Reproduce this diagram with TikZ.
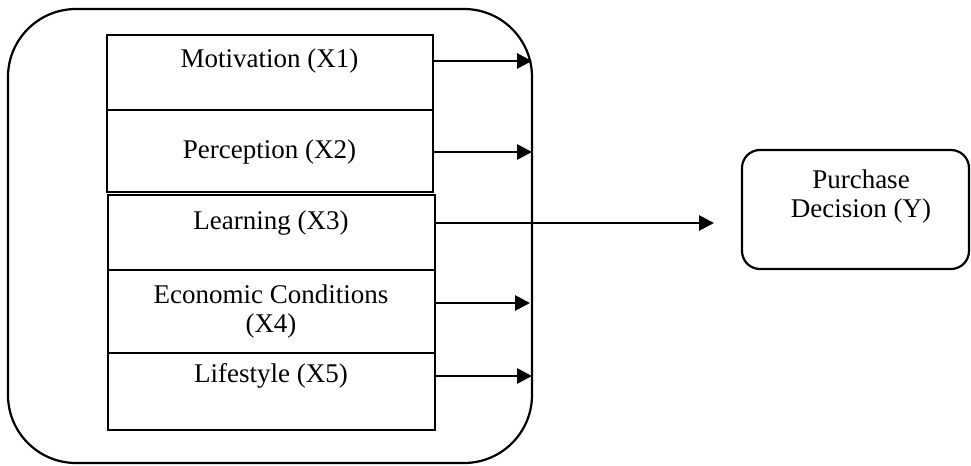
\documentclass[tikz,border=0pt]{standalone}
\usepackage{fontspec}
\setmainfont{Liberation Serif}
\usetikzlibrary{arrows.meta}
\begin{document}
\begin{tikzpicture}[x=0.5pt,y=-0.5pt,
  fbox/.style={draw,line width=1pt,inner sep=0pt,outer sep=0pt},
  lbl/.style={font=\fontsize{13.5pt}{14.5pt}\selectfont,inner sep=0pt,align=center},
  arr/.style={line width=1.4pt,-{Triangle[length=7.5pt,width=7.5pt]}}]
\useasboundingbox (0,0) rectangle (971,466);
\node[fbox,line width=1.1pt,rounded corners=34pt,minimum width=262pt,minimum height=227pt] (outer) at (270,236) {};
\node[fbox,minimum width=163pt,minimum height=37.5pt] (mbox) at (269.7,72.5) {};
\node[fbox,minimum width=163pt,minimum height=41pt] (pbox) at (269.7,151) {};
\node[fbox,minimum width=163.5pt,minimum height=37.5pt] (lbox) at (271.5,232.5) {};
\node[fbox,minimum width=163.5pt,minimum height=41.5pt] (ebox) at (271.5,311.5) {};
\node[fbox,minimum width=163.5pt,minimum height=38.5pt] (fbox) at (271.5,391.5) {};
\node[fbox,line width=1.1pt,rounded corners=9pt,minimum width=113.5pt,minimum height=59.5pt] (ybox) at (855.5,209.5) {};
\node[lbl] (mtxt) at (269.5,61) {Motivation (X1)};
\node[lbl] (ptxt) at (269.5,152) {Perception (X2)};
\node[lbl] (ltxt) at (271,223) {Learning (X3)};
\node[lbl] (etxt) at (271,312) {Economic Conditions\\(X4)};
\node[lbl] (ftxt) at (271,376) {Lifestyle (X5)};
\node[lbl] (ytxt) at (861,197) {Purchase\\Decision (Y)};
\coordinate (ea) at (0,303);
\coordinate (lend) at (714,223);
\draw[arr] (mbox.east |- mtxt) -- (outer.east |- mtxt);
\draw[arr] (pbox.east |- ptxt) -- (outer.east |- ptxt);
\draw[arr] (lbox.east |- ltxt) -- (lend);
\draw[arr] (ebox.east |- ea) -- ([xshift=-1pt]outer.east |- ea);
\draw[arr] (fbox.east |- ftxt) -- (outer.east |- ftxt);
\end{tikzpicture}
\end{document}
